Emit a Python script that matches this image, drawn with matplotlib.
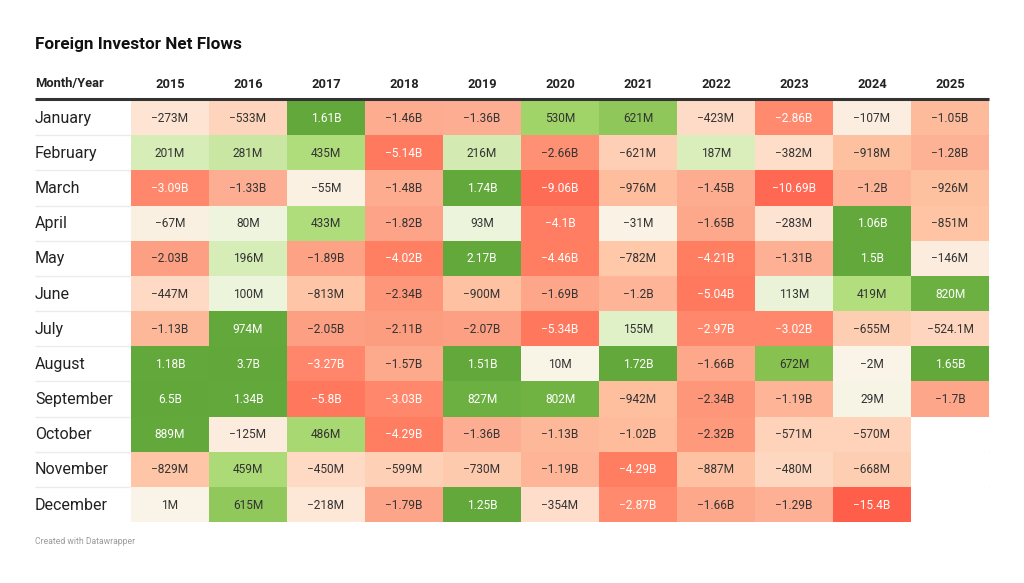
import numpy as np
import matplotlib
matplotlib.use("Agg")
import matplotlib.pyplot as plt
from matplotlib.colors import LinearSegmentedColormap, FuncNorm

plt.rcParams['font.family'] = ['Roboto', 'DejaVu Sans']

# ---------------- data (values in millions) ----------------
title = "Foreign Investor Net Flows"
corner_label = "Month/Year"
footer = "Created with Datawrapper"
months = ["January", "February", "March", "April", "May", "June", "July",
          "August", "September", "October", "November", "December"]
years = ["2015", "2016", "2017", "2018", "2019", "2020", "2021", "2022", "2023", "2024", "2025"]

v2015 = [-273, 201, -3090, -67, -2030, -447, -1130, 1180, 6500, 889, -829, 1]
v2016 = [-533, 281, -1330, 80, 196, 100, 974, 3700, 1340, -125, 459, 615]
v2017 = [1610, 435, -55, 433, -1890, -813, -2050, -3270, -5800, 486, -450, -218]
v2018 = [-1460, -5140, -1480, -1820, -4020, -2340, -2110, -1570, -3030, -4290, -599, -1790]
v2019 = [-1360, 216, 1740, 93, 2170, -900, -2070, 1510, 827, -1360, -730, 1250]
v2020 = [530, -2660, -9060, -4100, -4460, -1690, -5340, 10, 802, -1130, -1190, -354]
v2021 = [621, -621, -976, -31, -782, -1200, 155, 1720, -942, -1020, -4290, -2870]
v2022 = [-423, 187, -1450, -1650, -4210, -5040, -2970, -1660, -2340, -2320, -887, -1660]
v2023 = [-2860, -382, -10690, -283, -1310, 113, -3020, 672, -1190, -571, -480, -1290]
v2024 = [-107, -918, -1200, 1060, 1500, 419, -655, -2, 29, -570, -668, -15400]
v2025 = [-1050, -1280, -926, -851, -146, 820, -524.1, 1650, -1700, np.nan, np.nan, np.nan]

values = np.array([v2015, v2016, v2017, v2018, v2019, v2020, v2021,
                   v2022, v2023, v2024, v2025], dtype=float).T  # rows = months

# ---------------- colour scale ----------------
stops = [
    (-15400, "#ff5f4a"), (-10000, "#ff6a53"), (-9000, "#ff6c55"), (-5000, "#ff7a5f"),
    (-4000, "#ff7f63"), (-3000, "#ff886c"), (-2000, "#fda083"), (-1300, "#fdb094"),
    (-900, "#fec2a1"), (-600, "#fed1b8"), (-400, "#fedcc8"), (-250, "#fde5d5"),
    (-100, "#fbeee0"), (0, "#f9f4e7"), (100, "#edf4dc"), (200, "#d7edb8"),
    (430, "#b0dd7c"), (530, "#a0d468"), (620, "#8fc75a"), (680, "#86c150"),
    (800, "#70b343"), (900, "#63a83a"), (6500, "#61a73a"),
]
sv = np.array([s[0] for s in stops], dtype=float)
pos = np.linspace(0, 1, len(stops))
cmap = LinearSegmentedColormap.from_list("dw", list(zip(pos, [s[1] for s in stops])))
cmap.set_bad("white")
norm = FuncNorm((lambda x: np.interp(x, sv, pos), lambda y: np.interp(y, pos, sv)),
                vmin=sv[0], vmax=sv[-1])


def fmt(v):
    sign = "\u2212" if v < 0 else ""
    a = abs(v)
    if a >= 1000:
        s = f"{a/1000:.2f}".rstrip("0").rstrip(".") + "B"
    else:
        s = f"{a:.1f}".rstrip("0").rstrip(".") + "M"
    return sign + s


# ---------------- layout ----------------
W, H = 1024, 583
fig = plt.figure(figsize=(W / 100, H / 100), dpi=100)
fig.patch.set_facecolor("white")

left_px, right_px, top_px, bot_px = 131, 989, 100, 522
ax = fig.add_axes([left_px / W, 1 - bot_px / H, (right_px - left_px) / W, (bot_px - top_px) / H])
ncol, nrow = len(years), len(months)
colw = (right_px - left_px) / ncol
rowh = (bot_px - top_px) / nrow

masked = np.ma.masked_invalid(values)
ax.set_xlim(0, ncol)
ax.set_ylim(nrow, 0)
ax.axis("off")

label_x = (35 - left_px) / colw

# row separators
for r in range(1, nrow):
    ax.plot([label_x, ncol], [r, r], color="#ebebeb", lw=1, zorder=0,
            clip_on=False, solid_capstyle="butt")

ax.pcolormesh(np.arange(ncol + 1), np.arange(nrow + 1), masked, cmap=cmap, norm=norm,
              edgecolor="none", zorder=1)

# header line
ax.plot([label_x, ncol], [-0.02, -0.02], color="#333333", lw=2.2, zorder=3,
        clip_on=False, solid_capstyle="butt")

for r in range(nrow):
    ax.text(label_x, r + 0.52, months[r], ha="left", va="center", fontsize=11.5,
            color="#222222", clip_on=False)
    for c in range(ncol):
        v = values[r, c]
        if np.isnan(v):
            continue
        tc = "white" if (v >= 780 or v <= -2800) else "#333333"
        ax.text(c + 0.5, r + 0.52, fmt(v), ha="center", va="center", fontsize=8.6,
                color=tc, zorder=4)

header_y = (84 - top_px) / rowh
ax.text(label_x, header_y, corner_label, ha="left", va="center", fontsize=9.3,
        fontweight="bold", color="#222222", clip_on=False)
for c in range(ncol):
    ax.text(c + 0.5, header_y, years[c], ha="center", va="center", fontsize=9.3,
            fontweight="bold", color="#222222", clip_on=False)

fig.text(35 / W, 1 - 45 / H, title, ha="left", va="center", fontsize=12.3,
         fontweight="bold", color="#111111")
fig.text(35 / W, 1 - 542 / H, footer, ha="left", va="center", fontsize=6.2,
         color="#9a9a9a")

fig.savefig("out.png", dpi=100, facecolor="white")
